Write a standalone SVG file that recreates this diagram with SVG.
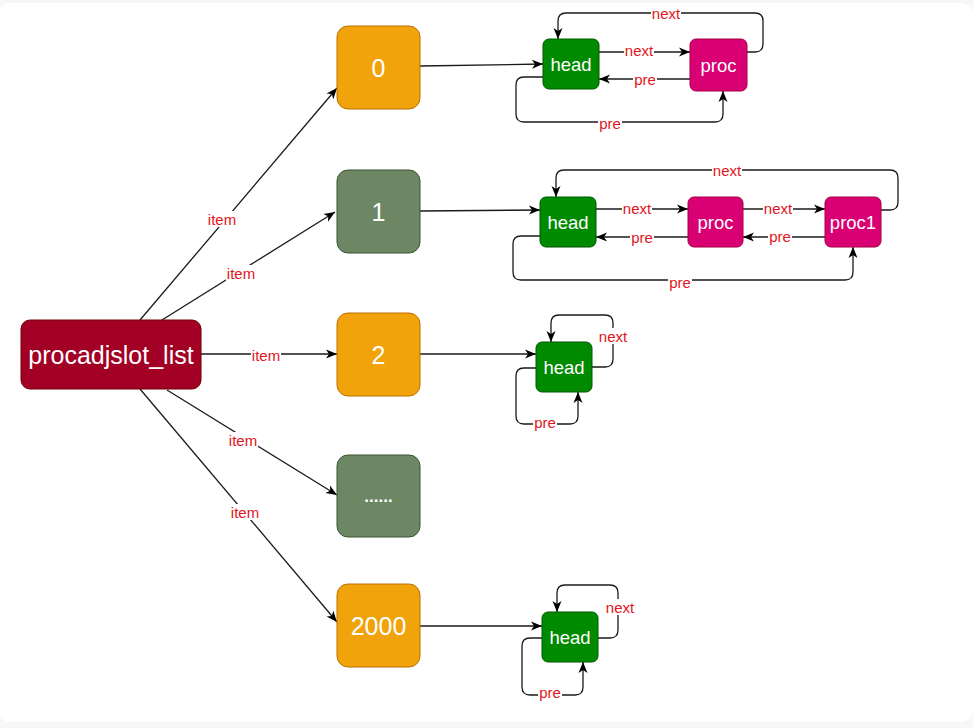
<svg xmlns="http://www.w3.org/2000/svg" width="973" height="728" viewBox="0 0 973 728">
<defs>
<marker id="arr" viewBox="0 0 11 10" refX="11" refY="5" markerWidth="11" markerHeight="10" markerUnits="userSpaceOnUse" orient="auto"><path d="M0,0.5 L11,5 L0,9.5 L3,5 z" fill="#000"/></marker>
<style>
.ln{fill:none;stroke:#1a1a1a;stroke-width:1.3;marker-end:url(#arr)}
.lab{font-family:"Liberation Sans",Arial,sans-serif;font-size:15px;fill:#e3141b;text-anchor:middle;dominant-baseline:central}
.bg{fill:#fff}
.nt{font-family:"Liberation Sans",Arial,sans-serif;fill:#fff;text-anchor:middle;dominant-baseline:central}
.big{font-size:25px}
.sm{font-size:18.5px}
.org{fill:#f0a30a;stroke:#bd7000}
.grn{fill:#6d8764;stroke:#3a5431}
.hd{fill:#008a00;stroke:#005700}
.pr{fill:#d80073;stroke:#a50040}
.red{fill:#a20025;stroke:#6f0000}
</style>
</defs>
<rect width="973" height="728" fill="#f7f7f7"/>
<rect x="-2" y="3" width="975" height="719" rx="12" fill="#fff"/>

<g id="connectors">
<path class="ln" d="M140,320 L337,88"/>
<path class="ln" d="M162,320 L335,212"/>
<path class="ln" d="M201,354 L337,354"/>
<path class="ln" d="M167,390 L337,495"/>
<path class="ln" d="M140,389 L337,622"/>
<rect class="bg" x="207" y="211" width="30" height="16"/><text class="lab" x="222" y="219">item</text>
<rect class="bg" x="226" y="265" width="30" height="16"/><text class="lab" x="241" y="273">item</text>
<rect class="bg" x="251" y="347" width="30" height="16"/><text class="lab" x="266" y="355">item</text>
<rect class="bg" x="228" y="432" width="30" height="16"/><text class="lab" x="243" y="440">item</text>
<rect class="bg" x="230" y="504" width="30" height="16"/><text class="lab" x="245" y="512">item</text>

<!-- row 0 -->
<path class="ln" d="M420,66 L543,64"/>
<path class="ln" d="M599,52 L690,52"/>
<path class="ln" d="M690,79 L599,79"/>
<path class="ln" d="M747,52 L755,52 Q763,52 763,44 L763,21 Q763,13 755,13 L566,13 Q558,13 558,21 L558,39"/>
<path class="ln" d="M543,77 L524,77 Q516,77 516,85 L516,114 Q516,122 524,122 L715,122 Q723,122 723,114 L723,91"/>
<rect class="bg" x="624" y="43" width="30" height="16"/><text class="lab" x="639" y="50">next</text>
<rect class="bg" x="633" y="71" width="24" height="16"/><text class="lab" x="645" y="79">pre</text>
<rect class="bg" x="651" y="5" width="30" height="16"/><text class="lab" x="666" y="13">next</text>
<rect class="bg" x="598" y="115" width="24" height="16"/><text class="lab" x="610" y="123">pre</text>

<!-- row 1 -->
<path class="ln" d="M420,211 L540,210"/>
<path class="ln" d="M596,209 L688,209"/>
<path class="ln" d="M743,209 L825,209"/>
<path class="ln" d="M688,237 L596,237"/>
<path class="ln" d="M825,237 L743,237"/>
<path class="ln" d="M881,210 L890,210 Q898,210 898,202 L898,178 Q898,170 890,170 L564,170 Q556,170 556,178 L556,197"/>
<path class="ln" d="M540,236 L521,236 Q513,236 513,244 L513,272 Q513,280 521,280 L845,280 Q853,280 853,272 L853,247"/>
<rect class="bg" x="622" y="201" width="30" height="16"/><text class="lab" x="637" y="208">next</text>
<rect class="bg" x="763" y="201" width="30" height="16"/><text class="lab" x="778" y="208">next</text>
<rect class="bg" x="630" y="229" width="24" height="16"/><text class="lab" x="642" y="237">pre</text>
<rect class="bg" x="768" y="229" width="24" height="16"/><text class="lab" x="780" y="236">pre</text>
<rect class="bg" x="712" y="162" width="30" height="16"/><text class="lab" x="727" y="170">next</text>
<rect class="bg" x="668" y="274" width="24" height="16"/><text class="lab" x="680" y="282">pre</text>

<!-- row 2 -->
<path class="ln" d="M420,354 L536,354"/>
<path class="ln" d="M592,367 L605,367 Q613,367 613,359 L613,323 Q613,315 605,315 L559,315 Q551,315 551,323 L551,342"/>
<path class="ln" d="M536,368 L524,368 Q516,368 516,376 L516,416 Q516,424 524,424 L570,424 Q578,424 578,416 L578,392"/>
<rect class="bg" x="598" y="328" width="30" height="16"/><text class="lab" x="613" y="336">next</text>
<rect class="bg" x="533" y="414" width="24" height="16"/><text class="lab" x="545" y="422">pre</text>

<!-- row 2000 -->
<path class="ln" d="M420,626 L542,626"/>
<path class="ln" d="M598,638 L610,638 Q618,638 618,630 L618,593 Q618,585 610,585 L565,585 Q557,585 557,593 L557,612"/>
<path class="ln" d="M542,638 L530,638 Q522,638 522,646 L522,687 Q522,695 530,695 L575,695 Q583,695 583,687 L583,662"/>
<rect class="bg" x="605" y="599" width="30" height="16"/><text class="lab" x="620" y="607">next</text>
<rect class="bg" x="538" y="684" width="24" height="16"/><text class="lab" x="550" y="692">pre</text>
</g>

<g id="procadjslot_list"><rect class="red" x="21" y="320" width="180" height="69" rx="9"/><text class="nt big" x="111" y="355">procadjslot_list</text></g>
<g id="slot0"><rect class="org" x="337" y="26" width="83" height="83" rx="11"/><text class="nt big" x="378.5" y="68">0</text></g>
<g id="slot1"><rect class="grn" x="337" y="170" width="83" height="83" rx="11"/><text class="nt big" x="378.5" y="212">1</text></g>
<g id="slot2"><rect class="org" x="337" y="313" width="83" height="83" rx="11"/><text class="nt big" x="378.5" y="355">2</text></g>
<g id="slotdots"><rect class="grn" x="337" y="455" width="83" height="82" rx="11"/><text class="nt" style="font-size:17px;font-weight:bold" x="378.5" y="496">......</text></g>
<g id="slot2000"><rect class="org" x="337" y="584" width="83" height="83" rx="11"/><text class="nt big" x="378.5" y="626">2000</text></g>

<g id="head0"><rect class="hd" x="543" y="39" width="56" height="50" rx="6"/><text class="nt sm" x="571" y="64">head</text></g>
<g id="proc0"><rect class="pr" x="690" y="39" width="57" height="52" rx="6"/><text class="nt sm" x="718.5" y="65">proc</text></g>
<g id="head1"><rect class="hd" x="540" y="197" width="56" height="50" rx="6"/><text class="nt sm" x="568" y="222">head</text></g>
<g id="proc1a"><rect class="pr" x="688" y="197" width="55" height="50" rx="6"/><text class="nt sm" x="715.5" y="222">proc</text></g>
<g id="proc1b"><rect class="pr" x="825" y="197" width="56" height="50" rx="6"/><text class="nt sm" x="853" y="222">proc1</text></g>
<g id="head2"><rect class="hd" x="536" y="342" width="56" height="50" rx="6"/><text class="nt sm" x="564" y="367">head</text></g>
<g id="head2000"><rect class="hd" x="542" y="612" width="56" height="50" rx="6"/><text class="nt sm" x="570" y="637">head</text></g>
</svg>
